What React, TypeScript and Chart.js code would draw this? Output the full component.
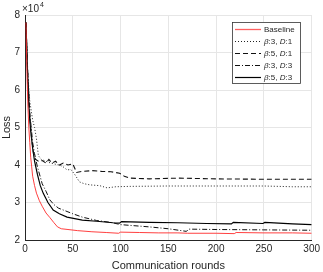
import React, { useEffect, useRef } from "react";
import { Chart, registerables } from "chart.js";

Chart.register(...registerables);

const FONT = 'Helvetica, Arial, "Liberation Sans", sans-serif';

const seriesNames = ["Baseline", "β:3, D:1", "β:5, D:1", "β:3, D:3", "β:5, D:3"];
const seriesColors = ["#ff2a2a", "#222222", "#111111", "#111111", "#000000"];
const seriesDashes: number[][] = [[], [1, 2], [5, 3], [5, 2, 1, 2], []];
const seriesWidths = [0.9, 1, 1.1, 1, 1.2];

const baselineRounds = [1, 2, 3, 4, 5, 6, 7, 8, 10, 12, 15, 18, 22, 26, 30, 34, 38, 45, 55, 70, 85, 98, 100, 120, 140, 160, 170, 200, 219, 221, 250, 280, 300];
const baselineLoss = [7.8, 6.5, 5.6, 5.0, 4.6, 4.2, 3.95, 3.7, 3.45, 3.25, 3.05, 2.9, 2.72, 2.6, 2.47, 2.35, 2.3, 2.28, 2.25, 2.22, 2.2, 2.18, 2.21, 2.2, 2.19, 2.19, 2.18, 2.18, 2.17, 2.2, 2.19, 2.19, 2.18];

const b3d1Rounds = [1, 2, 3, 5, 8, 10, 12, 14, 17, 22, 27, 32, 36, 40, 44, 48, 52, 57, 62, 68, 78, 86, 95, 110, 150, 200, 250, 280, 300];
const b3d1Loss = [7.8, 7.0, 6.4, 5.7, 5.2, 5.0, 4.7, 4.25, 4.15, 4.1, 4.05, 4.02, 4.0, 3.95, 3.87, 3.88, 3.75, 3.55, 3.5, 3.47, 3.45, 3.39, 3.42, 3.43, 3.44, 3.44, 3.44, 3.42, 3.42];

const b5d1Rounds = [1, 3, 5, 7, 9, 11, 14, 18, 22, 25, 28, 32, 36, 40, 45, 50, 54, 60, 70, 80, 90, 99, 104, 110, 130, 160, 200, 250, 300];
const b5d1Loss = [7.8, 6.3, 5.3, 4.7, 4.3, 4.15, 4.1, 4.12, 4.05, 4.15, 4.05, 4.1, 4.0, 4.05, 4.0, 4.03, 3.8, 3.83, 3.85, 3.83, 3.82, 3.78, 3.7, 3.65, 3.63, 3.65, 3.63, 3.62, 3.62];

const b3d3Rounds = [1, 3, 5, 8, 10, 13, 18, 22, 26, 30, 35, 44, 50, 60, 75, 90, 100, 130, 150, 169, 171, 200, 250, 300];
const b3d3Loss = [7.8, 6.4, 5.4, 4.6, 4.3, 3.95, 3.5, 3.3, 3.07, 2.95, 2.85, 2.76, 2.7, 2.61, 2.52, 2.47, 2.41, 2.35, 2.3, 2.23, 2.29, 2.28, 2.27, 2.26];

const b5d3Rounds = [1, 2, 3, 4, 5, 6, 8, 10, 13, 16, 19, 24, 29.5, 36, 44, 60, 75, 92, 99, 101, 130, 160, 190, 216, 218, 249, 251, 280, 300];
const b5d3Loss = [7.8, 7.0, 6.2, 5.6, 5.2, 4.9, 4.45, 4.1, 3.75, 3.45, 3.25, 3.0, 2.8, 2.7, 2.61, 2.53, 2.5, 2.46, 2.45, 2.49, 2.47, 2.46, 2.44, 2.43, 2.47, 2.44, 2.47, 2.43, 2.41];

const seriesRounds = [baselineRounds, b3d1Rounds, b5d1Rounds, b3d3Rounds, b5d3Rounds];
const seriesLoss = [baselineLoss, b3d1Loss, b5d1Loss, b3d3Loss, b5d3Loss];

const xTitle = "Communication rounds";
const yTitle = "Loss";

const overlayPlugin = {
  id: "overlay",
  afterDraw(chart: any) {
    const ctx = chart.ctx;
    const area = chart.chartArea;
    ctx.save();
    ctx.fillStyle = "#262626";
    ctx.textBaseline = "alphabetic";
    ctx.textAlign = "left";
    ctx.font = `10px ${FONT}`;
    ctx.fillText("×10", area.left - 3, 12);
    const w = ctx.measureText("×10").width;
    ctx.font = `7px ${FONT}`;
    ctx.fillText("4", area.left - 3 + w + 1, 7);
    ctx.font = `11px ${FONT}`;
    ctx.textAlign = "center";
    ctx.textBaseline = "middle";
    ctx.fillText(xTitle, (area.left + area.right) / 2, 266);
    ctx.save();
    ctx.translate(7, (area.top + area.bottom) / 2);
    ctx.rotate(-Math.PI / 2);
    ctx.fillText(yTitle, 0, 0);
    ctx.restore();
    const bx = 232, by = 22, bw = 68, bh = 61;
    ctx.fillStyle = "#ffffff";
    ctx.fillRect(bx, by, bw, bh);
    ctx.strokeStyle = "#333333";
    ctx.lineWidth = 0.8;
    ctx.strokeRect(bx + 0.5, by + 0.5, bw, bh);
    seriesNames.forEach((name, i) => {
      const y = by + 7.5 + i * 12;
      ctx.strokeStyle = i === 0 ? "#ff6060" : seriesColors[i];
      ctx.lineWidth = i === 0 ? 1.3 : seriesWidths[i];
      ctx.setLineDash(seriesDashes[i]);
      ctx.beginPath();
      ctx.moveTo(235, y);
      ctx.lineTo(261, y);
      ctx.stroke();
      ctx.setLineDash([]);
      ctx.fillStyle = "#262626";
      ctx.textAlign = "left";
      ctx.textBaseline = "middle";
      let x = 264;
      for (const ch of name) {
        const it = name !== "Baseline" && (ch === "β" || ch === "D");
        ctx.font = `${it ? "italic " : ""}8px ${FONT}`;
        ctx.fillText(ch, x, y);
        x += ctx.measureText(ch).width;
      }
    });
    ctx.restore();
  },
};

export default function App() {
  const ref = useRef<HTMLCanvasElement | null>(null);
  useEffect(() => {
    document.body.style.margin = "0";
    const canvas = ref.current!;
    const chart = new Chart(canvas, {
      type: "line",
      data: {
        datasets: seriesNames.map((name, i) => ({
          label: name,
          data: seriesRounds[i].map((r, j) => ({ x: r, y: seriesLoss[i][j] })),
          borderColor: seriesColors[i],
          borderWidth: seriesWidths[i],
          borderDash: seriesDashes[i],
          pointRadius: 0,
          tension: 0,
          fill: false,
        })),
      },
      options: {
        responsive: false,
        animation: false,
        events: [],
        layout: { padding: { left: 0, top: 15, right: 10, bottom: 0 } },
        plugins: { legend: { display: false }, tooltip: { enabled: false }, title: { display: false } },
        scales: {
          x: {
            type: "linear",
            min: 0,
            max: 300,
            afterFit: (s: any) => { s.height = 32; },
            ticks: { stepSize: 50, color: "#262626", font: { family: FONT, size: 10 }, padding: 3, maxRotation: 0 },
            grid: { color: "#e6e6e6", drawTicks: false, lineWidth: 1 },
            border: { color: "#262626", width: 1 },
          },
          y: {
            type: "linear",
            min: 2,
            max: 8,
            afterFit: (s: any) => { s.width = 25; },
            ticks: { stepSize: 1, color: "#262626", font: { family: FONT, size: 10 }, padding: 5 },
            grid: { color: "#e6e6e6", drawTicks: false, lineWidth: 1 },
            border: { color: "#262626", width: 1 },
          },
        },
      },
      plugins: [overlayPlugin],
    });
    return () => chart.destroy();
  }, []);
  return <canvas ref={ref} width={323} height={272} style={{ display: "block" }} />;
}
